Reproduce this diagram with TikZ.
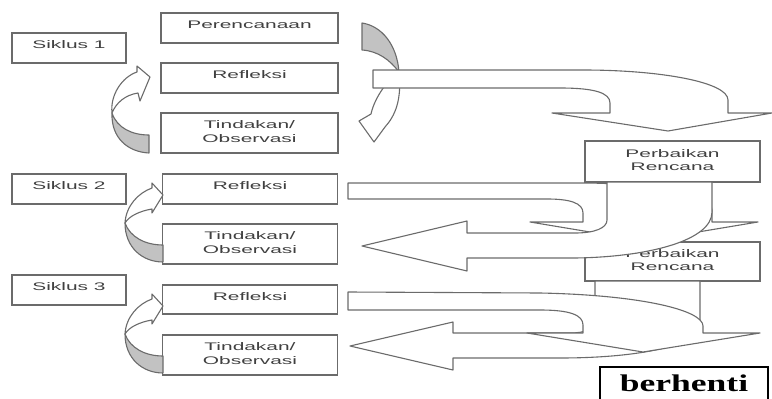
\documentclass[tikz,border=0pt]{standalone}
\usepackage{fontspec}
\setmainfont{Liberation Sans}
\newfontfamily\hurufserif{Liberation Serif}
\definecolor{garis}{gray}{0.42}
\definecolor{huruf}{gray}{0.25}
\definecolor{bayang}{gray}{0.76}
\newcommand{\lebar}[1]{\scalebox{1.9}[1]{#1}}
\newcommand{\dualine}[2]{\lebar{\begin{tabular}{@{}c@{}}#1\\#2\end{tabular}}}
\tikzset{
  kotak/.style={draw=garis, fill=white, line width=1.2pt, inner sep=0pt, text=huruf,
    font=\fontsize{11}{13.5}\selectfont},
  satu/.style={kotak, text height=8pt, text depth=7pt},
  panah/.style={draw=garis, fill=white, line width=1.1pt, line join=round},
  bayangan/.style={panah, fill=bayang}
}
\begin{document}
\begin{tikzpicture}[x=1pt,y=-1pt]
\useasboundingbox (0,0) rectangle (772,399);
\clip (0,0) rectangle (772,399);
% kolom kiri
\node[satu, minimum width=114pt, minimum height=30pt] (siklus1) at (69,48) {\lebar{Siklus 1}};
\node[satu, minimum width=114pt, minimum height=30pt] (siklus2) at (69,189) {\lebar{Siklus 2}};
\node[satu, minimum width=114pt, minimum height=30pt] (siklus3) at (69,290) {\lebar{Siklus 3}};
% kolom tengah
\node[satu, minimum width=177pt, minimum height=30pt] (rencana) at (249.5,28) {\lebar{Perencanaan}};
\node[satu, minimum width=177pt, minimum height=30pt] (refleksi1) at (249.5,78) {\lebar{Refleksi}};
\node[kotak, minimum width=177pt, minimum height=40pt] (tindakan1) at (249.5,133) {\dualine{Tindakan/}{Observasi}};
\node[satu, minimum width=175pt, minimum height=30pt] (refleksi2) at (250,189) {\lebar{Refleksi}};
\node[kotak, minimum width=175pt, minimum height=40pt] (tindakan2) at (250,244) {\dualine{Tindakan/}{Observasi}};
\node[satu, minimum width=175pt, minimum height=29pt] (refleksi3) at (250,299.5) {\lebar{Refleksi}};
\node[kotak, minimum width=175pt, minimum height=40pt] (tindakan3) at (250,355) {\dualine{Tindakan/}{Observasi}};
% panah lengkung kiri
\draw[panah] (137,72) -- (137,66) -- (150,77) -- (140,101) -- (138,93)
  .. controls (125,95) and (116,103) .. (112,113)
  .. controls (110,95) and (122,77) .. (137,72) -- cycle;
\draw[bayangan] (112,113) .. controls (111,138) and (128,152) .. (149,153)
  -- (149,135) .. controls (132,135) and (117,128) .. (112,113) -- cycle;
\foreach \dy in {0,111}{
\begin{scope}[yshift=-\dy pt]
\draw[panah] (152,188) -- (152,183) -- (163,195) -- (152,213) -- (152,209)
  .. controls (140,211) and (129,216) .. (125,223)
  .. controls (126,206) and (138,193) .. (152,188) -- cycle;
\draw[bayangan] (125,223) .. controls (125,248) and (143,262) .. (163,262)
  -- (163,245) .. controls (145,245) and (130,237) .. (125,223) -- cycle;
\end{scope}
}
% panah lengkung kanan
\draw[bayangan] (362,23) .. controls (382,26) and (397,45) .. (399,72)
  .. controls (390,60) and (378,51) .. (362,50) -- cycle;
\draw[panah] (399,72) .. controls (402,100) and (395,116) .. (385,127)
  -- (374,142) -- (359,121) -- (371,114)
  .. controls (374,100) and (385,82) .. (399,72) -- cycle;
% panah besar siklus 1
\draw[panah] (373,70) -- (583,70) .. controls (660,70) and (728,82) .. (728,100)
  -- (728,113) -- (772,113) -- (668,131) -- (552,113) -- (610,113) -- (610,103)
  .. controls (610,93) and (595,88) .. (560,88) -- (373,88) -- cycle;
% perbaikan rencana
\node[kotak, minimum width=175pt, minimum height=41pt] (perbaikan1) at (672.5,161.5) {\dualine{Perbaikan}{Rencana}};
\node[kotak, minimum width=175pt, minimum height=39pt] (perbaikan2) at (672.5,261.5) {\dualine{Perbaikan}{Rencana}};
% panah besar siklus 2
\draw[panah] (348,183) -- (587,183) .. controls (660,184) and (712,195) .. (712,210)
  -- (712,222) -- (758,222) -- (644,241) -- (530,222) -- (583,222) -- (583,213)
  .. controls (583,203) and (570,199) .. (547,199) -- (348,199) -- cycle;
\draw[panah] (607,182) -- (607,220) .. controls (607,228) and (595,233) .. (575,233)
  -- (467,233) -- (467,221) -- (362,246) -- (467,271) -- (467,258) -- (575,258)
  .. controls (650,257) and (712,240) .. (712,212) -- (712,182) -- cycle;
% panah besar siklus 3
\draw[panah] (595,281) -- (595,322) .. controls (595,329) and (585,333) .. (570,333)
  -- (453,333) -- (453,322) -- (350,346) -- (453,370) -- (453,358) -- (560,358)
  .. controls (640,358) and (700,345) .. (700,325) -- (700,281) -- cycle;
\draw[panah] (348,292) -- (540,293) .. controls (640,295) and (703,310) .. (703,326)
  -- (703,333) -- (760,333) -- (643,352) -- (527,333) -- (583,333) -- (583,325)
  .. controls (583,315) and (570,310) .. (540,310) -- (348,310) -- cycle;
% berhenti
\node[draw=black, line width=1.6pt, fill=white, minimum width=168pt, minimum height=40pt,
  inner sep=0pt, text height=16pt, text depth=8pt,
  font=\hurufserif\bfseries\fontsize{24}{26}\selectfont] (berhenti) at (684,387)
  {\scalebox{1.48}[1]{berhenti}};
\end{tikzpicture}
\end{document}
